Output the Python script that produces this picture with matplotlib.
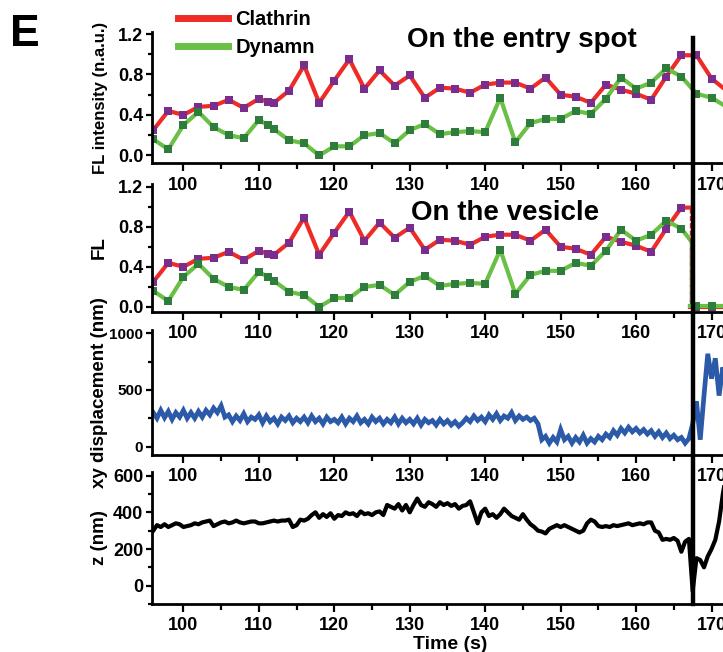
import numpy as np
import matplotlib.pyplot as plt
import matplotlib.transforms as mtransforms
from matplotlib.lines import Line2D
from matplotlib.ticker import MultipleLocator

plt.rcParams['font.family'] = ['Liberation Sans', 'DejaVu Sans']
plt.rcParams['font.weight'] = 'bold'
plt.rcParams['axes.labelweight'] = 'bold'

# fluorescence at the entry spot (normalised), ~2 s frames
t_fl = [96, 98, 100, 102, 104, 106, 108, 110, 111.2, 112,
        114, 116, 118, 120, 122, 124, 126, 128, 130, 132,
        134, 136, 138, 140, 142, 144, 146, 148, 150, 152,
        154, 156, 158, 160, 162, 164, 166, 168, 170, 172]
clathrin = [0.25, 0.44, 0.40, 0.48, 0.49, 0.55, 0.47, 0.56, 0.53, 0.52,
            0.64, 0.89, 0.52, 0.74, 0.95, 0.66, 0.84, 0.69, 0.79, 0.57,
            0.67, 0.66, 0.62, 0.70, 0.72, 0.72, 0.66, 0.77, 0.60, 0.58,
            0.52, 0.70, 0.65, 0.61, 0.55, 0.78, 0.99, 0.99, 0.76, 0.64]
dynamin = [0.16, 0.06, 0.30, 0.43, 0.28, 0.20, 0.17, 0.35, 0.30, 0.26,
           0.15, 0.12, 0.00, 0.09, 0.09, 0.20, 0.22, 0.12, 0.25, 0.31,
           0.21, 0.23, 0.24, 0.23, 0.57, 0.13, 0.32, 0.36, 0.36, 0.44,
           0.41, 0.56, 0.77, 0.66, 0.72, 0.86, 0.78, 0.61, 0.57, 0.48]

# on the vesicle: signal follows the spot until the cut, then background
t_cut = 167.15
clathrin_cut = 0.99
dynamin_cut = 0.67
t_after = [168, 170, 172]
clathrin_after = [0.0, 0.0, 0.0]
dynamin_after = [0.01, 0.01, 0.01]

# single particle tracking, 0.5 s sampling
t_trace = np.arange(96, 172.25, 0.5)
xy_disp = [300, 250, 320, 255, 310, 240, 300, 260, 320, 250,
           300, 250, 310, 260, 320, 280, 340, 300, 360, 260,
           280, 220, 270, 230, 290, 220, 260, 240, 280, 210,
           270, 220, 250, 200, 260, 230, 270, 210, 250, 220,
           260, 210, 270, 220, 250, 200, 260, 220, 240, 210,
           260, 200, 250, 220, 270, 210, 240, 200, 260, 220,
           250, 200, 240, 210, 260, 200, 250, 210, 240, 200,
           250, 190, 240, 210, 230, 190, 240, 200, 230, 190,
           220, 180, 210, 250, 220, 270, 230, 260, 220, 280,
           240, 290, 230, 270, 250, 300, 230, 270, 240, 260,
           230, 250, 200, 60, 90, 30, 80, 40, 150, 60,
           90, 30, 80, 40, 100, 30, 70, 40, 90, 60,
           110, 80, 140, 100, 160, 120, 170, 130, 160, 120,
           150, 110, 140, 90, 130, 80, 120, 70, 100, 60,
           80, 30, 70, 200, 400, 60, 450, 820, 600, 780,
           450, 700, 550]
z_pos = [300, 330, 320, 335, 320, 330, 340, 335, 320, 325,
         330, 340, 335, 345, 350, 355, 325, 335, 345, 350,
         340, 345, 355, 345, 340, 345, 350, 350, 340, 340,
         345, 350, 355, 350, 355, 355, 360, 320, 330, 360,
         355, 365, 385, 400, 370, 390, 375, 395, 365, 385,
         380, 400, 390, 395, 380, 405, 390, 395, 385, 400,
         405, 385, 440, 430, 420, 445, 410, 440, 400, 440,
         475, 440, 430, 455, 445, 430, 455, 440, 450, 435,
         445, 420, 435, 440, 460, 400, 340, 400, 420, 380,
         390, 370, 390, 420, 400, 380, 370, 360, 390, 360,
         335, 320, 300, 295, 285, 310, 320, 330, 320, 330,
         320, 310, 300, 290, 300, 340, 360, 350, 325, 320,
         325, 320, 330, 325, 330, 335, 340, 330, 335, 340,
         335, 345, 345, 300, 290, 250, 255, 250, 260, 245,
         185, 240, 255, -30, 150, 140, 100, 160, 200, 250,
         350, 500, 620]

t_event = 167.5

RED = '#ef2b25'
PURPLE = '#7b2d8d'
GREEN = '#6abf45'
DKGREEN = '#2f7d3c'
BLUE = '#2b5aa9'

W, H = 723, 652
X0, X1 = 95.8, 174.8
PX_PER_S = 7.545

fig = plt.figure(figsize=(W / 100, H / 100), dpi=100)


def add_panel(top, bottom):
    ax = fig.add_axes([151.7 / W, 1 - bottom / H, (X1 - X0) * PX_PER_S / W, (bottom - top) / H])
    ax.set_facecolor('none')
    for s in ['top', 'right']:
        ax.spines[s].set_visible(False)
    for s in ['left', 'bottom']:
        ax.spines[s].set_linewidth(2)
    ax.set_xlim(X0, X1)
    ax.xaxis.set_major_locator(MultipleLocator(10))
    ax.xaxis.set_minor_locator(MultipleLocator(5))
    ax.tick_params(axis='x', which='major', length=6, width=1.6, pad=3.5, labelsize=13)
    ax.tick_params(axis='x', which='minor', length=4, width=1.6)
    ax.tick_params(axis='y', which='major', length=4, width=1.6, pad=2, labelsize=13)
    ax.tick_params(axis='y', which='minor', length=3, width=1.6)
    return ax


def fl_axis(ax):
    ax.set_ylim(-0.08, 1.22)
    ax.yaxis.set_major_locator(MultipleLocator(0.4))
    ax.yaxis.set_minor_locator(MultipleLocator(0.2))
    ax.yaxis.set_major_formatter(plt.FormatStrFormatter('%.1f'))


ax1 = add_panel(32, 163.5)
ax2 = add_panel(183.5, 312)
ax3 = add_panel(330, 455)
ax4 = add_panel(472, 604)

line_kw = dict(lw=3, marker='s', markersize=5.5, markeredgewidth=0)

# on the entry spot
ax1.plot(t_fl, clathrin, color=RED, markerfacecolor=PURPLE, **line_kw)
ax1.plot(t_fl, dynamin, color=GREEN, markerfacecolor=DKGREEN, **line_kw)
fl_axis(ax1)
ax1.set_ylabel('FL intensity (n.a.u.)', fontsize=12)

# on the vesicle
t_fl_arr = np.array(t_fl)
before = t_fl_arr <= 166
t_ves = list(t_fl_arr[before]) + [t_cut]
cl_ves = list(np.array(clathrin)[before]) + [clathrin_cut]
dy_ves = list(np.array(dynamin)[before]) + [dynamin_cut]
ax2.plot(t_ves, cl_ves, color=RED, markevery=list(range(before.sum())),
         markerfacecolor=PURPLE, **line_kw)
ax2.plot(t_ves, dy_ves, color=GREEN, markevery=list(range(before.sum())),
         markerfacecolor=DKGREEN, **line_kw)
ax2.plot([t_cut, t_cut], [clathrin_cut, clathrin_after[0]], color=RED, lw=1, ls='--')
ax2.plot([t_cut, t_cut], [dynamin_cut, dynamin_after[0]], color=DKGREEN, lw=1, ls='--')
ax2.plot([t_cut] + t_after, [clathrin_after[0]] + clathrin_after, color=RED,
         markevery=[1, 2, 3], markerfacecolor=PURPLE, **line_kw)
ax2.plot([t_cut] + t_after, [dynamin_after[0]] + dynamin_after, color=GREEN,
         markevery=[1, 2, 3], markerfacecolor=DKGREEN, **line_kw)
fl_axis(ax2)
ax2.set_ylim(-0.05, 1.23)
ax2.set_ylabel('FL', fontsize=13.5)

# lateral displacement
ax3.plot(t_trace, xy_disp, color=BLUE, lw=3.4, solid_joinstyle='miter')
ax3.set_ylim(-75, 1030)
ax3.yaxis.set_major_locator(MultipleLocator(500))
ax3.yaxis.set_minor_locator(MultipleLocator(250))
ax3.tick_params(axis='y', labelsize=11)
ax3.set_ylabel('xy displacement (nm)', fontsize=13.5)

# axial position
ax4.plot(t_trace, z_pos, color='black', lw=3)
ax4.set_ylim(-100, 620)
ax4.yaxis.set_major_locator(MultipleLocator(200))
ax4.yaxis.set_minor_locator(MultipleLocator(100))
ax4.set_ylabel('z (nm)', fontsize=13.5)
ax4.set_xlabel('Time (s)', fontsize=14, labelpad=1)

for ax in (ax1, ax2, ax3, ax4):
    ax.yaxis.set_label_coords(-0.074, 0.5)

# scission time across all panels
trans = mtransforms.blended_transform_factory(ax4.transData, fig.transFigure)
fig.add_artist(Line2D([t_event, t_event], [1 - 37.7 / H, 1 - 604 / H], transform=trans,
                      color='black', lw=3.2, zorder=10))

handles = [Line2D([], [], color=RED, lw=5), Line2D([], [], color=GREEN, lw=5)]
fig.legend(handles, ['Clathrin', 'Dynamn'], loc='upper left', bbox_to_anchor=(178 / W, 1 - 10 / H),
           frameon=False, fontsize=14.5, handlelength=2.5, handletextpad=0.35,
           labelspacing=0.45, borderpad=0, borderaxespad=0)

fig.text(407 / W, 1 - 47 / H, 'On the entry spot', fontsize=20, va='baseline')
fig.text(411 / W, 1 - 220 / H, 'On the vesicle', fontsize=20, va='baseline')
fig.text(10 / W, 1 - 46 / H, 'E', fontsize=32, va='baseline')

fig.savefig('out.png', dpi=100)
